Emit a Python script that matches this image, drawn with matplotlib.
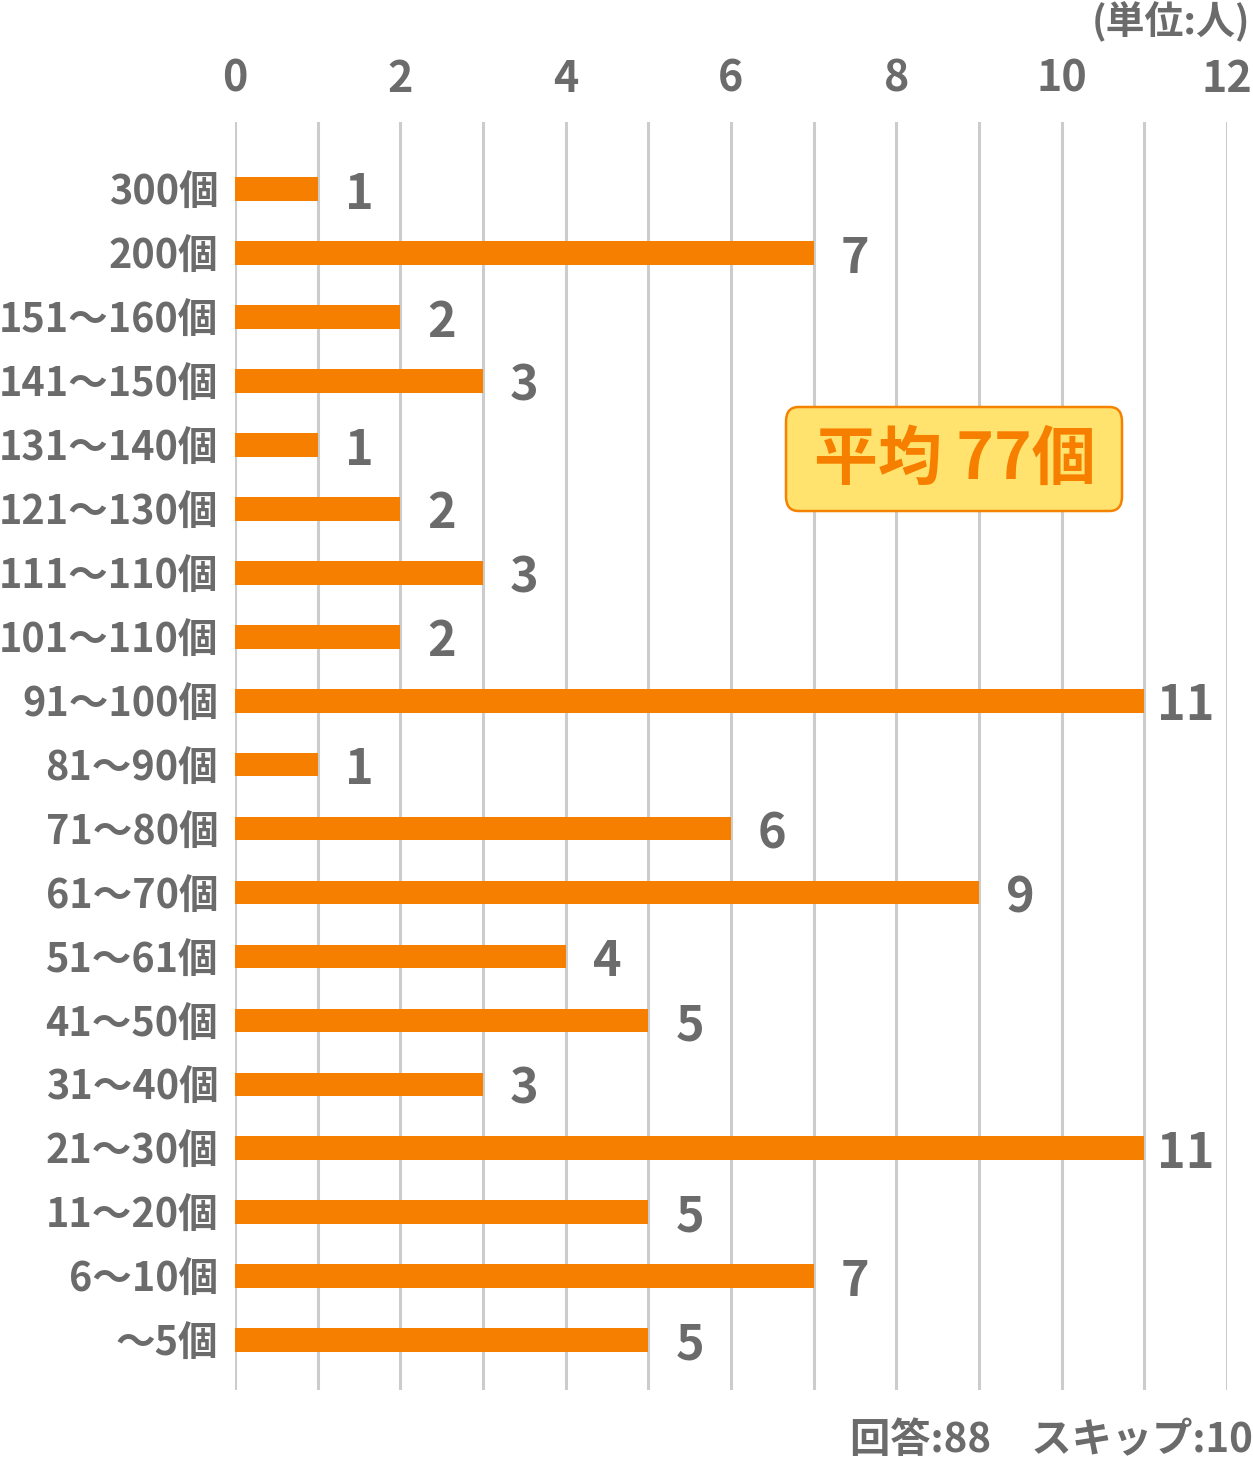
import matplotlib
matplotlib.use("Agg")
import matplotlib.pyplot as plt
from matplotlib.patches import FancyBboxPatch

plt.rcParams['font.family'] = ['Noto Sans CJK JP', 'DejaVu Sans']

categories = ["300個", "200個", "151〜160個", "141〜150個", "131〜140個", "121〜130個",
              "111〜110個", "101〜110個", "91〜100個", "81〜90個", "71〜80個", "61〜70個",
              "51〜61個", "41〜50個", "31〜40個", "21〜30個", "11〜20個", "6〜10個", "〜5個"]
counts = [1, 7, 2, 3, 1, 2, 3, 2, 11, 1, 6, 9, 4, 5, 3, 11, 5, 7, 5]
xticks = [0, 2, 4, 6, 8, 10, 12]

orange = "#f77f00"
gray = "#6b6b6b"

W, H = 1253, 1459
fig = plt.figure(figsize=(W / 100, H / 100), dpi=100)
ax = fig.add_axes([235 / W, 1 - 1390 / H, (1227 - 235) / W, (1390 - 122) / H])

y = list(range(len(categories)))
ax.barh(y, counts, height=0.37, color=orange, zorder=3)
ax.set_xlim(0, 12)
ax.set_ylim(18.78, -1.05)

ax.set_xticks(range(0, 13))
ax.set_xticklabels([])
ax.grid(axis="x", color="#cccccc", linewidth=2.2, zorder=0)
ax.set_yticks(y)
ax.set_yticklabels(categories, fontsize=28.5, fontweight="bold", color=gray)
ax.tick_params(axis="y", length=0, pad=12)
ax.tick_params(axis="x", length=0)
for s in ax.spines.values():
    s.set_visible(False)

for t in xticks:
    ax.text(t, -1.05 - 0.68, str(t), ha="center", va="center", fontsize=31,
            fontweight="bold", color=gray, clip_on=False)

for yi, v in zip(y, counts):
    ax.text(v + 0.5, yi + 0.08, str(v), ha="center", va="center", fontsize=35,
            fontweight="bold", color=gray)

# average box
box = FancyBboxPatch((786 / W, 1 - 511 / H), (1122 - 786) / W, (511 - 407) / H,
                     boxstyle="round,pad=0,rounding_size=0.01", transform=fig.transFigure,
                     facecolor="#ffe36e", edgecolor="#f58200", linewidth=1.8, zorder=5)
fig.patches.append(box)
fig.text(955 / W, 1 - 460 / H, "平均 77個", ha="center", va="center", fontsize=46,
         fontweight="bold", color=orange, zorder=6)

fig.text(1250 / W, 1 - 22 / H, "(単位:人)", ha="right", va="center", fontsize=28,
         fontweight="bold", color=gray)
fig.text(1253 / W, 1 - 1440 / H, "回答:88　スキップ:10", ha="right", va="center",
         fontsize=29, fontweight="bold", color=gray)

fig.savefig("out.png", dpi=100, facecolor="white")
